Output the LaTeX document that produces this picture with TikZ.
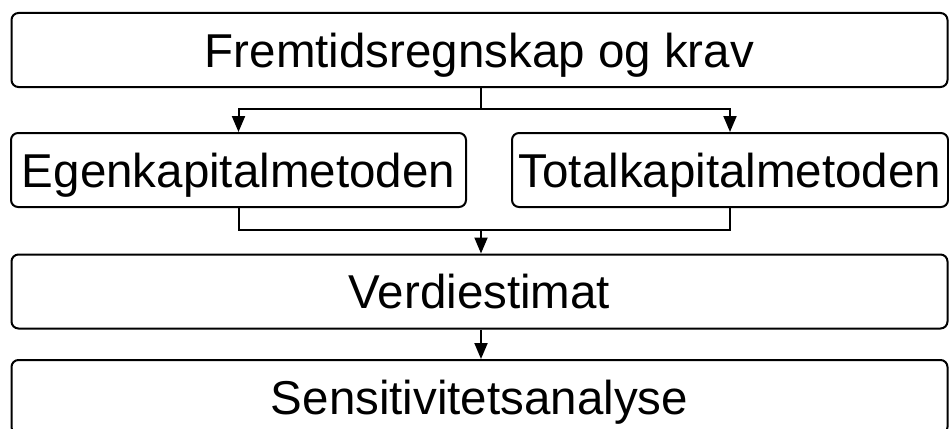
\documentclass[tikz,border=0pt]{standalone}
\usepackage{fontspec}
\setmainfont{Liberation Sans}
\usetikzlibrary{arrows.meta}
\begin{document}
\begin{tikzpicture}[x=1pt,y=-1pt,
  box/.style={draw=black, line width=2pt, rounded corners=7pt, inner sep=0pt,
    minimum height=74pt, text height=34pt, text depth=0pt,
    font=\fontsize{47.5}{50}\selectfont},
  wire/.style={draw=black, line width=2pt},
  arr/.style={wire, -{Triangle[length=16pt,width=13pt]}}]
\useasboundingbox (0,0) rectangle (949,428);
\clip (0,0) rectangle (949,428);
\node[box, minimum width=936pt] (top)   at (479.5,50)  {Fremtidsregnskap og krav};
\node[box, minimum width=455pt] (eg)    at (238.5,170) {Egenkapitalmetoden};
\node[box, minimum width=436pt] (tk)    at (730,170)   {Totalkapitalmetoden};
\node[box, minimum width=936pt] (verdi) at (479.5,291.5) {Verdiestimat};
\node[box, minimum width=936pt] (sens)  at (479.5,397) {Sensitivitetsanalyse};
% split below the top box
\coordinate (split) at (481,109);
\draw[wire] (top.south -| split) -- (split);
\draw[arr] (split) -| (eg.north);
\draw[arr] (split) -| (tk.north);
% merge into the value estimate
\coordinate (merge) at (481,230);
\draw[wire] (eg.south) |- (merge);
\draw[wire] (tk.south) |- (merge);
\draw[arr] (merge) -- (merge |- verdi.north);
\draw[arr] (verdi.south -| merge) -- (merge |- sens.north);
\end{tikzpicture}
\end{document}
